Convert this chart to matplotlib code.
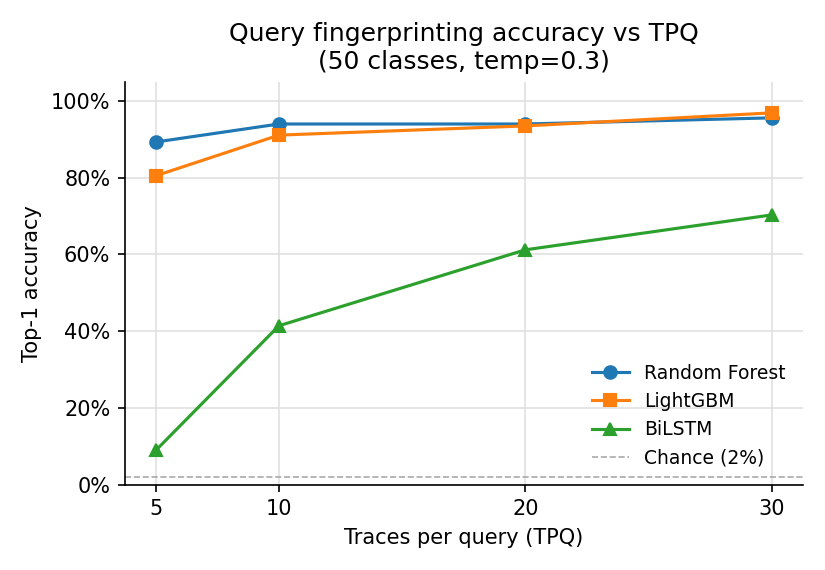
import matplotlib
matplotlib.use("Agg")
import matplotlib.pyplot as plt
from matplotlib.ticker import PercentFormatter

tpq = [5, 10, 20, 30]
rf_acc = [0.893, 0.940, 0.940, 0.956]
lgbm_acc = [0.805, 0.911, 0.935, 0.969]
bilstm_acc = [0.089, 0.414, 0.612, 0.703]
chance = 0.02

fig, ax = plt.subplots(figsize=(5.5, 3.8), dpi=150)

ax.plot(tpq, rf_acc, marker='o', color='#1f77b4', label='Random Forest')
ax.plot(tpq, lgbm_acc, marker='s', color='#ff7f0e', label='LightGBM')
ax.plot(tpq, bilstm_acc, marker='^', color='#2ca02c', label='BiLSTM')
ax.axhline(chance, color='#aaaaaa', linestyle='--', linewidth=0.8, label='Chance (2%)')

ax.set_xticks(tpq)
ax.set_ylim(0, 1.05)
ax.yaxis.set_major_formatter(PercentFormatter(1.0, decimals=0))
ax.set_xlabel('Traces per query (TPQ)')
ax.set_ylabel('Top-1 accuracy')
ax.set_title('Query fingerprinting accuracy vs TPQ\n(50 classes, temp=0.3)')
ax.grid(True, color='#e0e0e0', linewidth=0.8)
ax.set_axisbelow(True)
ax.spines['top'].set_visible(False)
ax.spines['right'].set_visible(False)
ax.legend(loc='lower right', frameon=False, fontsize=9)

fig.tight_layout()
fig.savefig('out.png')
